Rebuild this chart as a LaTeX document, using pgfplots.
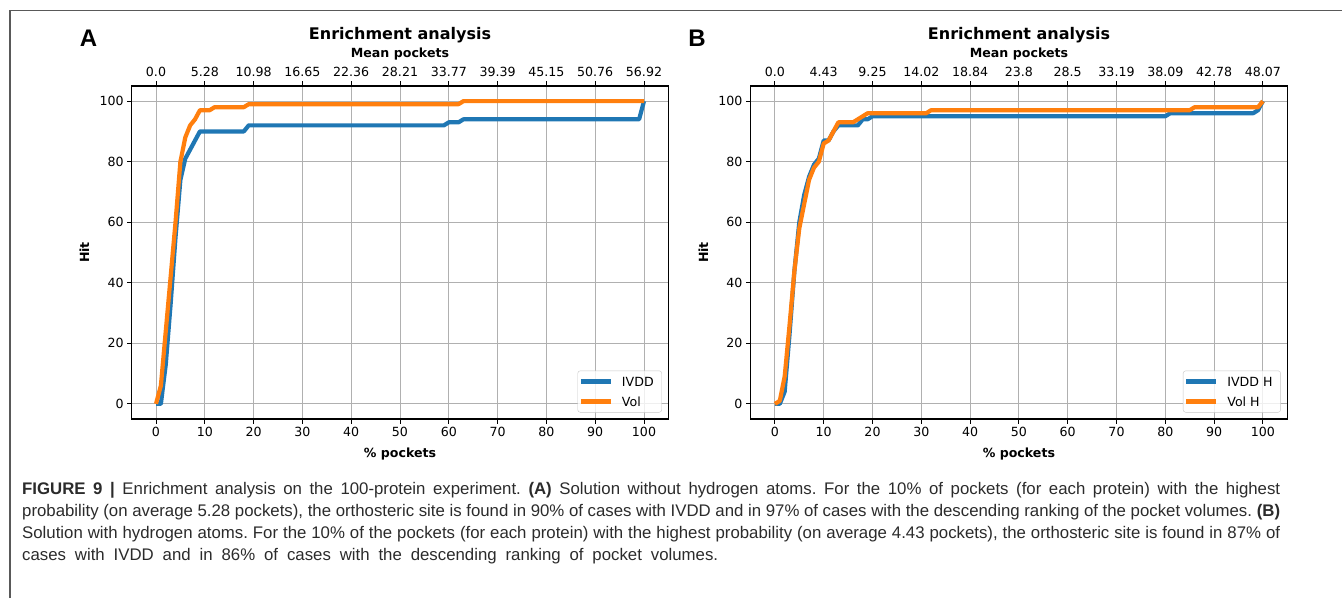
\documentclass[border=0pt]{standalone}
\usepackage{fontspec}
\setmainfont{DejaVu Sans}
\newfontfamily\capfont{Liberation Sans}
\usepackage{pgfplots}
\pgfplotsset{compat=1.18}

\definecolor{C0}{HTML}{1F77B4}
\definecolor{C1}{HTML}{FF7F0E}
\definecolor{gridc}{HTML}{B0B0B0}
\definecolor{capc}{HTML}{2B2B2B}

\pgfplotstableread{
x y
0 0
1 0
2 13
3 33
4 55
5 74
6 81
7 84
8 87
9 90
18 90
19 92
59 92
60 93
62 93
63 94
99 94
100 100
}\AIVDD
\pgfplotstableread{
x y
0 0
1 6
2 24
3 42
4 60
5 80
6 88
7 92
8 94
9 97
11 97
12 98
18 98
19 99
62 99
63 100
100 100
}\AVol
\pgfplotstableread{
x y
0 0
1 0
2 4
3 23
4 44
5 60
6 69
7 75
8 79
9 81
10 87
11 87
12 90
13 92
17 92
18 94
19 94
20 95
80 95
81 96
98 96
99 97
100 100
}\BIVDD
\pgfplotstableread{
x y
0 0
1 1
2 9
3 26
4 44
5 58
6 66
7 74
8 78
9 80
10 86
11 87
12 90
13 93
16 93
17 94
18 95
19 96
31 96
32 97
85 97
86 98
99 98
100 100
}\BVol

\newcommand{\tfs}{\fontsize{12.6}{15}\selectfont}

\pgfplotsset{
  enrich/.style={
    scale only axis, width=536.8pt, height=333pt,
    xmin=-5, xmax=105, ymin=-5, ymax=105,
    xtick={0,10,...,100}, ytick={0,20,...,100},
    xtick pos=left, ytick pos=left,
    grid=major, grid style={gridc, line width=1pt},
    axis line style={black, line width=1.1pt},
    tick align=outside, major tick length=4.5pt,
    every tick/.style={black, line width=1pt},
    /pgf/number format/assume math mode=true,
    tick label style={font=\tfs},
    xlabel={\bfseries \% pockets}, ylabel={\bfseries Hit},
    label style={font=\tfs},
    xlabel style={yshift=-4pt},
    ylabel style={yshift=3.5pt},
    legend cell align=left,
    legend style={at={(1,0)}, anchor=south east, xshift=-6.5pt, yshift=6.5pt,
      draw=gray!45, rounded corners=2.5pt, fill=white, fill opacity=0.8, text opacity=1,
      font=\tfs, inner xsep=1pt, inner ysep=2pt, row sep=2.5pt,
      nodes={inner xsep=7pt, inner ysep=4pt, text height=9.5pt, text depth=0pt}},
    legend image code/.code={\draw[#1] (0pt,0pt) -- (30pt,0pt); \path (0pt,0pt) (32pt,0pt);},
    every axis plot/.append style={line width=4.2pt, line join=round},
  },
  topax/.style={
    scale only axis, width=536.8pt, height=333pt,
    xmin=-5, xmax=105, ymin=-5, ymax=105,
    axis x line*=top, axis y line=none,
    xtick={0,10,...,100},
    tick align=outside, major tick length=4.5pt,
    every tick/.style={black, line width=1pt},
    x axis line style={draw=none},
    tick label style={font=\tfs},
    xticklabel style={yshift=1.5pt},
  }
}

\begin{document}
\begin{tikzpicture}
\path[use as bounding box] (0pt,0pt) rectangle (1342pt,598pt);
\draw[line width=1.3pt, black!65] (10pt,0pt) -- (10pt,587.3pt) -- (1342pt,587.3pt);

% ---------- Panel A ----------
\begin{axis}[enrich, at={(131.6pt,179pt)}, anchor=south west]
\addplot[C0] table[x=x,y=y] {\AIVDD};
\addlegendentry{IVDD}
\addplot[C1] table[x=x,y=y] {\AVol};
\addlegendentry{Vol}
\end{axis}
\begin{axis}[topax, at={(131.6pt,179pt)}, anchor=south west,
  xticklabels={0.0,5.28,10.98,16.65,22.36,28.21,33.77,39.39,45.15,50.76,56.92}]
\addplot[draw=none] coordinates {(0,0)};
\end{axis}
\node[font=\fontsize{16}{18}\selectfont\bfseries] at (400pt,563pt) {Enrichment analysis};
\node[font=\tfs\bfseries] at (400pt,543.5pt) {Mean pockets};
\node[font=\capfont\bfseries\fontsize{24}{24}\selectfont, anchor=base, inner sep=0pt] at (88.5pt,551pt) {A};

% ---------- Panel B ----------
\begin{axis}[enrich, at={(750.5pt,179pt)}, anchor=south west]
\addplot[C0] table[x=x,y=y] {\BIVDD};
\addlegendentry{IVDD H}
\addplot[C1] table[x=x,y=y] {\BVol};
\addlegendentry{Vol H}
\end{axis}
\begin{axis}[topax, at={(750.5pt,179pt)}, anchor=south west,
  xticklabels={0.0,4.43,9.25,14.02,18.84,23.8,28.5,33.19,38.09,42.78,48.07}]
\addplot[draw=none] coordinates {(0,0)};
\end{axis}
\node[font=\fontsize{16}{18}\selectfont\bfseries] at (1019pt,563pt) {Enrichment analysis};
\node[font=\tfs\bfseries] at (1019pt,543.5pt) {Mean pockets};
\node[font=\capfont\bfseries\fontsize{24}{24}\selectfont, anchor=base, inner sep=0pt] at (697pt,551pt) {B};

% ---------- Caption ----------
\begin{scope}[every node/.style={anchor=base west, inner sep=0pt, text=capc, font=\capfont\fontsize{16.8}{20}\selectfont\frenchspacing}]
\node at (22pt,103.5pt) {\makebox[1258pt][s]{\textbf{FIGURE 9 |} Enrichment analysis on the 100-protein experiment. \textbf{(A)} Solution without hydrogen atoms. For the 10\% of pockets (for each protein) with the highest}};
\node at (22pt,81.5pt) {\makebox[1258pt][s]{probability (on average 5.28 pockets), the orthosteric site is found in 90\% of cases with IVDD and in 97\% of cases with the descending ranking of the pocket volumes. \textbf{(B)}}};
\node at (22pt,59.5pt) {\makebox[1258pt][s]{Solution with hydrogen atoms. For the 10\% of the pockets (for each protein) with the highest probability (on average 4.43 pockets), the orthosteric site is found in 87\% of}};
\node at (22pt,37.5pt) {\makebox[696pt][s]{cases with IVDD and in 86\% of cases with the descending ranking of pocket volumes.}};
\end{scope}
\end{tikzpicture}
\end{document}
